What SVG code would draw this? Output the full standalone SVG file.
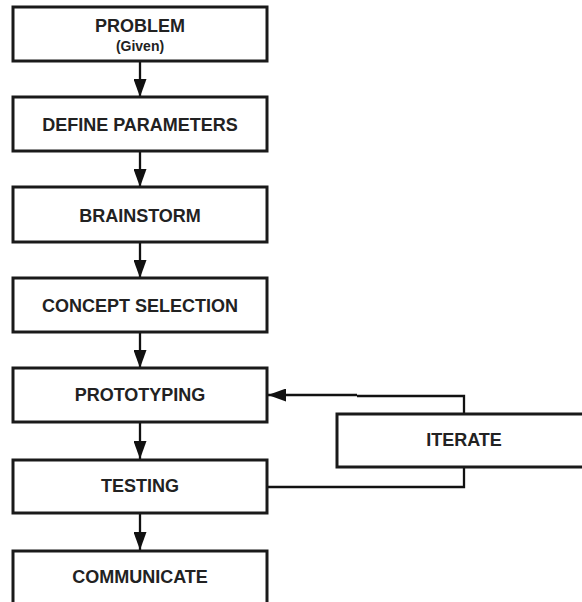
<svg xmlns="http://www.w3.org/2000/svg" width="582" height="602" viewBox="0 0 582 602">
  <style>
    .box { fill: #ffffff; stroke: #1a1a1a; stroke-width: 3; }
    .lbl { font-family: "Liberation Sans", Arial, sans-serif; font-weight: bold; font-size: 18px; fill: #222222; text-anchor: middle; }
    .sub { font-size: 14px; }
    .wire { fill: none; stroke: #111111; stroke-width: 2.3; }
  </style>
  <defs>
    <marker id="head" markerUnits="userSpaceOnUse" markerWidth="18" markerHeight="13" refX="18" refY="6.5" orient="auto">
      <path d="M0,0 L18,6.5 L0,13 Z" fill="#111111"/>
    </marker>
  </defs>

  <rect width="582" height="602" fill="#ffffff"/>

  <g id="connectors">
    <line class="wire" x1="140" y1="62" x2="140" y2="97" marker-end="url(#head)"/>
    <line class="wire" x1="140" y1="152" x2="140" y2="187" marker-end="url(#head)"/>
    <line class="wire" x1="140" y1="242" x2="140" y2="278" marker-end="url(#head)"/>
    <line class="wire" x1="140" y1="333" x2="140" y2="368" marker-end="url(#head)"/>
    <line class="wire" x1="140" y1="423" x2="140" y2="459" marker-end="url(#head)"/>
    <line class="wire" x1="140" y1="514" x2="140" y2="550" marker-end="url(#head)"/>
    <!-- loop back: testing -> iterate -> prototyping -->
    <polyline class="wire" points="268,487 464,487 464,467"/>
    <polyline class="wire" points="464,414 464,396 357,396"/>
    <line class="wire" x1="357" y1="395" x2="268" y2="395" marker-end="url(#head)"/>
  </g>

  <g id="problem">
    <rect class="box" x="13" y="7" width="254" height="54"/>
    <text class="lbl" x="140" y="32">PROBLEM</text>
    <text class="lbl sub" x="140" y="51">(Given)</text>
  </g>
  <g id="define-parameters">
    <rect class="box" x="13" y="97" width="254" height="54"/>
    <text class="lbl" x="140" y="131">DEFINE PARAMETERS</text>
  </g>
  <g id="brainstorm">
    <rect class="box" x="13" y="187" width="254" height="55"/>
    <text class="lbl" x="140" y="222">BRAINSTORM</text>
  </g>
  <g id="concept-selection">
    <rect class="box" x="13" y="278" width="254" height="54"/>
    <text class="lbl" x="140" y="312">CONCEPT SELECTION</text>
  </g>
  <g id="prototyping">
    <rect class="box" x="13" y="368" width="254" height="54"/>
    <text class="lbl" x="140" y="401">PROTOTYPING</text>
  </g>
  <g id="testing">
    <rect class="box" x="13" y="460" width="254" height="53"/>
    <text class="lbl" x="140" y="492">TESTING</text>
  </g>
  <g id="communicate">
    <rect class="box" x="13" y="551" width="254" height="60"/>
    <text class="lbl" x="140" y="583">COMMUNICATE</text>
  </g>
  <g id="iterate">
    <rect class="box" x="337" y="414" width="260" height="53"/>
    <text class="lbl" x="464" y="446">ITERATE</text>
  </g>
</svg>
